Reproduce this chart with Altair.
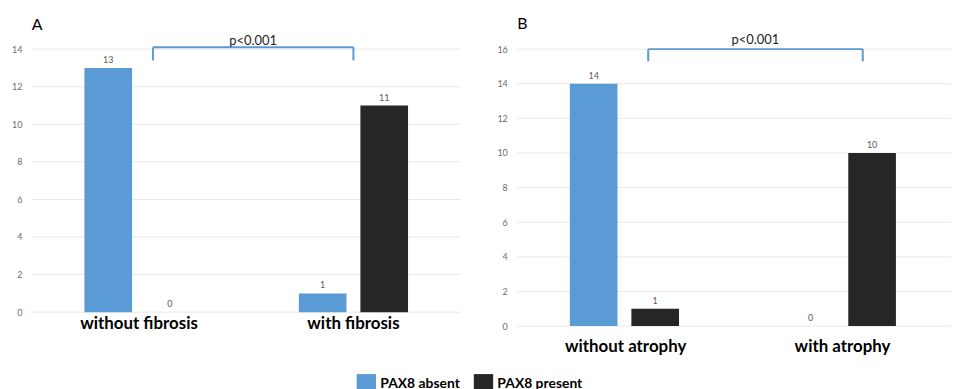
import altair as alt
import pandas as pd

# ---- data ----
series = ["PAX8 absent", "PAX8 present"]
series_colors = ["#5B9BD5", "#262626"]

categories_a = ["without fibrosis", "with fibrosis"]
absent_a = [13, 1]
present_a = [0, 11]
ticks_a = [0, 2, 4, 6, 8, 10, 12, 14]

categories_b = ["without atrophy", "with atrophy"]
absent_b = [14, 0]
present_b = [1, 10]
ticks_b = [0, 2, 4, 6, 8, 10, 12, 14, 16]

p_text = "p<0.001"
FONT = "Lato"


def long_table(cats, absent, present):
    rows = []
    for c, va, vp in zip(cats, absent, present):
        rows.append({"cat": c, "series": series[0], "value": va})
        rows.append({"cat": c, "series": series[1], "value": vp})
    return pd.DataFrame(rows)


legend = alt.Legend(
    orient="none", legendX=327, legendY=327, direction="horizontal", title=None,
    symbolType="square", symbolSize=380, symbolStrokeWidth=0,
    labelFontSize=14, labelFontWeight="bold", labelFont=FONT, labelColor="#000",
    columnPadding=13, labelOffset=4, padding=0,
)


def panel(title, cats, absent, present, ticks, width, height,
          pi, po, off_align, xlabel_pad, bx_left, bx_right, bx_text,
          br_top, br_low, txt_y):
    df = long_table(cats, absent, present)
    xscale = alt.Scale(domain=cats, paddingInner=0, paddingOuter=0)
    xaxis = alt.Axis(title=None, labelAngle=0, domain=False, ticks=False, grid=False,
                     labelFontSize=17, labelFontWeight="bold", labelColor="#000",
                     labelFont=FONT, labelPadding=xlabel_pad)
    yscale = alt.Scale(domain=[0, ticks[-1]], nice=False, zero=True)
    yaxis = alt.Axis(title=None, values=ticks, domain=False, ticks=False, grid=False,
                     labelFontSize=9, labelColor="#6b6b6b", labelFont=FONT,
                     labelPadding=10, labelOverlap=False)
    x = alt.X("cat:N", scale=xscale, sort=cats, axis=xaxis)
    y = alt.Y("value:Q", scale=yscale, axis=yaxis)
    xoff = alt.XOffset("series:N", sort=series,
                       scale=alt.Scale(domain=series, paddingInner=pi, paddingOuter=po,
                                       align=off_align))
    color = alt.Color("series:N", sort=series,
                      scale=alt.Scale(domain=series, range=series_colors), legend=legend)

    # horizontal gridlines spanning the plot width
    grid = alt.Chart(pd.DataFrame({"tick": ticks})).mark_rule(
        color="#E8E8E8", strokeWidth=1).encode(
        y=alt.Y("tick:Q", scale=yscale, axis=yaxis))

    base = alt.Chart(df)
    bars = base.mark_bar().encode(x=x, y=y, xOffset=xoff, color=color)
    labels = base.mark_text(dy=-8, fontSize=9, color="#595959", font=FONT).encode(
        x=x, y=y, xOffset=xoff, text="value:Q")

    bdf = pd.DataFrame({"c1": [cats[0]], "c2": [cats[1]], "t": [p_text]})
    bb = alt.Chart(bdf)
    rule_col = "#5B9BD5"
    horiz = bb.mark_rule(color=rule_col, strokeWidth=2).encode(
        x=alt.X("c1:N", scale=xscale, bandPosition=bx_left, axis=xaxis),
        x2=alt.X2("c2:N", bandPosition=bx_right),
        y=alt.Y(datum=br_top, scale=yscale, axis=yaxis))
    left = bb.mark_rule(color=rule_col, strokeWidth=2).encode(
        x=alt.X("c1:N", scale=xscale, bandPosition=bx_left, axis=xaxis),
        y=alt.Y(datum=br_low, scale=yscale, axis=yaxis), y2=alt.datum(br_top))
    right = bb.mark_rule(color=rule_col, strokeWidth=2).encode(
        x=alt.X("c2:N", scale=xscale, bandPosition=bx_right, axis=xaxis),
        y=alt.Y(datum=br_low, scale=yscale, axis=yaxis), y2=alt.datum(br_top))
    ptxt = bb.mark_text(fontSize=13, color="#222", font=FONT, baseline="middle").encode(
        x=alt.X("c2:N", scale=xscale, bandPosition=bx_text, axis=xaxis),
        y=alt.Y(datum=txt_y, scale=yscale, axis=yaxis), text="t:N")

    return alt.layer(grid, bars, labels, horiz, left, right, ptxt).properties(
        width=width, height=height,
        title=alt.TitleParams(title, anchor="start", frame="group", fontSize=16, font=FONT,
                              fontWeight="normal", color="#000", offset=2),
    )


chart_a = panel("A", categories_a, absent_a, present_a, ticks_a, 432, 265,
                0.2258, 0.8548, 0.5, 3, 0.565, 0.5, 0.0325, 14.1, 13.4, 14.45)
chart_b = panel("B", categories_b, absent_b, present_b, ticks_b, 437, 279,
                0.2121, 0.7614, 0.637, 13, 0.604, 0.593, 0.098, 16.0, 15.3, 16.55)

chart = alt.hconcat(chart_a, chart_b, spacing=35).properties(
    padding={"left": 3, "top": 6, "right": 0, "bottom": 0}
).configure_view(stroke=None)

chart.save("out.html", embed_options={"renderer": "svg", "actions": False})
